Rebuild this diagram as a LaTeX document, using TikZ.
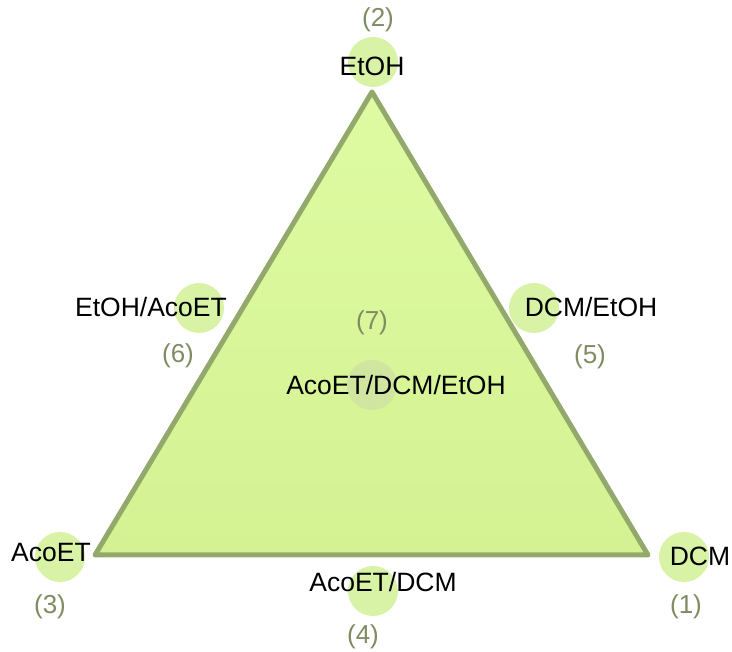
\documentclass[tikz,border=0pt]{standalone}
\usepackage{fontspec}
\setmainfont{Liberation Sans}
\definecolor{edgegreen}{HTML}{93A86B}
\definecolor{fillgreen}{HTML}{DEFBA2}
\definecolor{fillgreendark}{HTML}{D4F292}
\definecolor{dotgreen}{HTML}{D8F2A6}
\definecolor{centerdot}{HTML}{D0E6A0}
\definecolor{numgray}{HTML}{7F8C62}
\tikzset{
  dot/.style={circle, fill=dotgreen, minimum size=50pt, inner sep=0pt},
  lbl/.style={font=\fontsize{26.5}{31}\selectfont, text=black, inner sep=0pt},
  num/.style={font=\fontsize{26}{31}\selectfont, text=numgray, inner sep=0pt}
}
\begin{document}
\begin{tikzpicture}[x=1pt,y=-1pt]
\useasboundingbox (0,0) rectangle (732,652);
% triangle
\coordinate (T) at (372,92);
\coordinate (L) at (95,555);
\coordinate (R) at (648,555);
\shade[top color=fillgreen, bottom color=fillgreendark] (T) -- (L) -- (R) -- cycle;
\draw[edgegreen, line width=5pt, line join=round] (T) -- (L) -- (R) -- cycle;
% circles
\node[dot] (c2) at (373,62) {};
\node[dot] (c3) at (60,557) {};
\node[dot] (c1) at (684,557) {};
\node[dot] (c4) at (373,591) {};
\node[dot] (c6) at (199,308) {};
\node[dot] (c5) at (534,308) {};
\node[dot, fill=centerdot] (c7) at (372,385) {};
% labels
\node[lbl] (t2) at (372,66) {EtOH};
\node[lbl] (t3) at (51,553) {AcoET};
\node[lbl] (t1) at (700,556) {DCM};
\node[lbl] (t4) at (383,582) {AcoET/DCM};
\node[lbl] (t6) at (151,307) {EtOH/AcoET};
\node[lbl] (t5) at (591,307) {DCM/EtOH};
\node[lbl] (t7) at (396,385) {AcoET/DCM/EtOH};
% numbers
\node[num] (n2) at (378,20) {(2)};
\node[num] (n3) at (50,607) {(3)};
\node[num] (n1) at (686,607) {(1)};
\node[num] (n4) at (363,637) {(4)};
\node[num] (n6) at (178,356) {(6)};
\node[num] (n5) at (590,357) {(5)};
\node[num] (n7) at (372,323) {(7)};
\end{tikzpicture}
\end{document}
